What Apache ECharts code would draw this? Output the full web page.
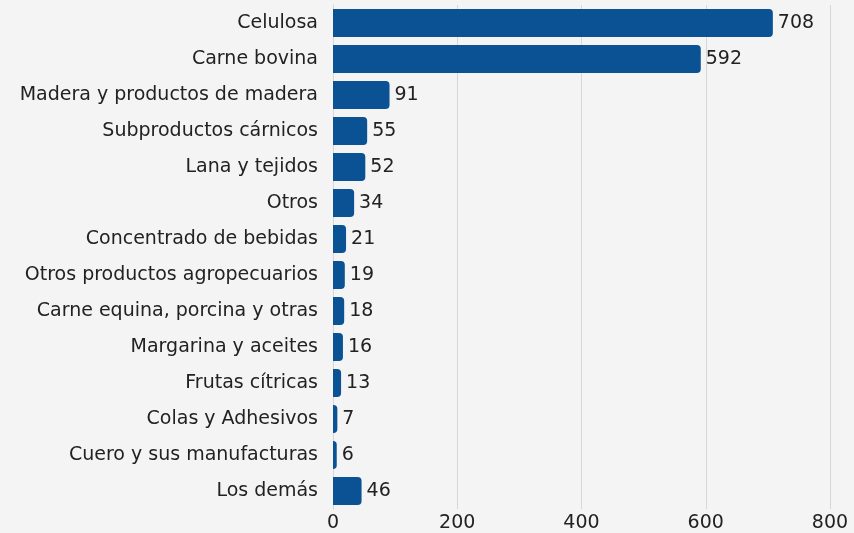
<!DOCTYPE html>
<html>
<head>
<meta charset="utf-8">
<script src="https://cdn.jsdelivr.net/npm/echarts@6/dist/echarts.min.js"></script>
<style>
  html, body { margin: 0; padding: 0; background: #f4f4f4; }
  #chart { width: 854px; height: 533px; }
</style>
</head>
<body>
<div id="chart"></div>
<script>
// Product categories, top to bottom
const categories = [
  'Celulosa',
  'Carne bovina',
  'Madera y productos de madera',
  'Subproductos cárnicos',
  'Lana y tejidos',
  'Otros',
  'Concentrado de bebidas',
  'Otros productos agropecuarios',
  'Carne equina, porcina y otras',
  'Margarina y aceites',
  'Frutas cítricas',
  'Colas y Adhesivos',
  'Cuero y sus manufacturas',
  'Los demás'
];
const values = [708, 592, 91, 55, 52, 34, 21, 19, 18, 16, 13, 7, 6, 46];
const xTicks = [0, 200, 400, 600, 800];

const fontFamily = '"DejaVu Sans", "Open Sans", sans-serif';
const textColor = '#222222';

const chart = echarts.init(document.getElementById('chart'), null, { renderer: 'canvas' });
chart.setOption({
  backgroundColor: '#f4f4f4',
  animation: false,
  grid: { left: 333, right: 24, top: 5, bottom: 24, containLabel: false },
  xAxis: {
    type: 'value',
    min: xTicks[0],
    max: xTicks[xTicks.length - 1],
    interval: xTicks[1] - xTicks[0],
    axisLine: { show: false },
    axisTick: { show: false },
    axisLabel: { color: textColor, fontSize: 19, fontFamily: fontFamily, margin: 5 },
    splitLine: { show: true, lineStyle: { color: '#d6d6d6', width: 1 } }
  },
  yAxis: {
    type: 'category',
    inverse: true,
    data: categories,
    axisLine: { show: true, lineStyle: { color: '#d6d6d6' } },
    axisTick: { show: false },
    axisLabel: { color: textColor, fontSize: 19, fontFamily: fontFamily, margin: 15 }
  },
  series: [{
    type: 'bar',
    data: values,
    barCategoryGap: '22%',
    itemStyle: { color: '#0a5294', borderRadius: [0, 4, 4, 0] },
    label: {
      show: true,
      position: 'right',
      distance: 5,
      color: textColor,
      fontSize: 19,
      fontFamily: fontFamily
    }
  }]
});
</script>
</body>
</html>
